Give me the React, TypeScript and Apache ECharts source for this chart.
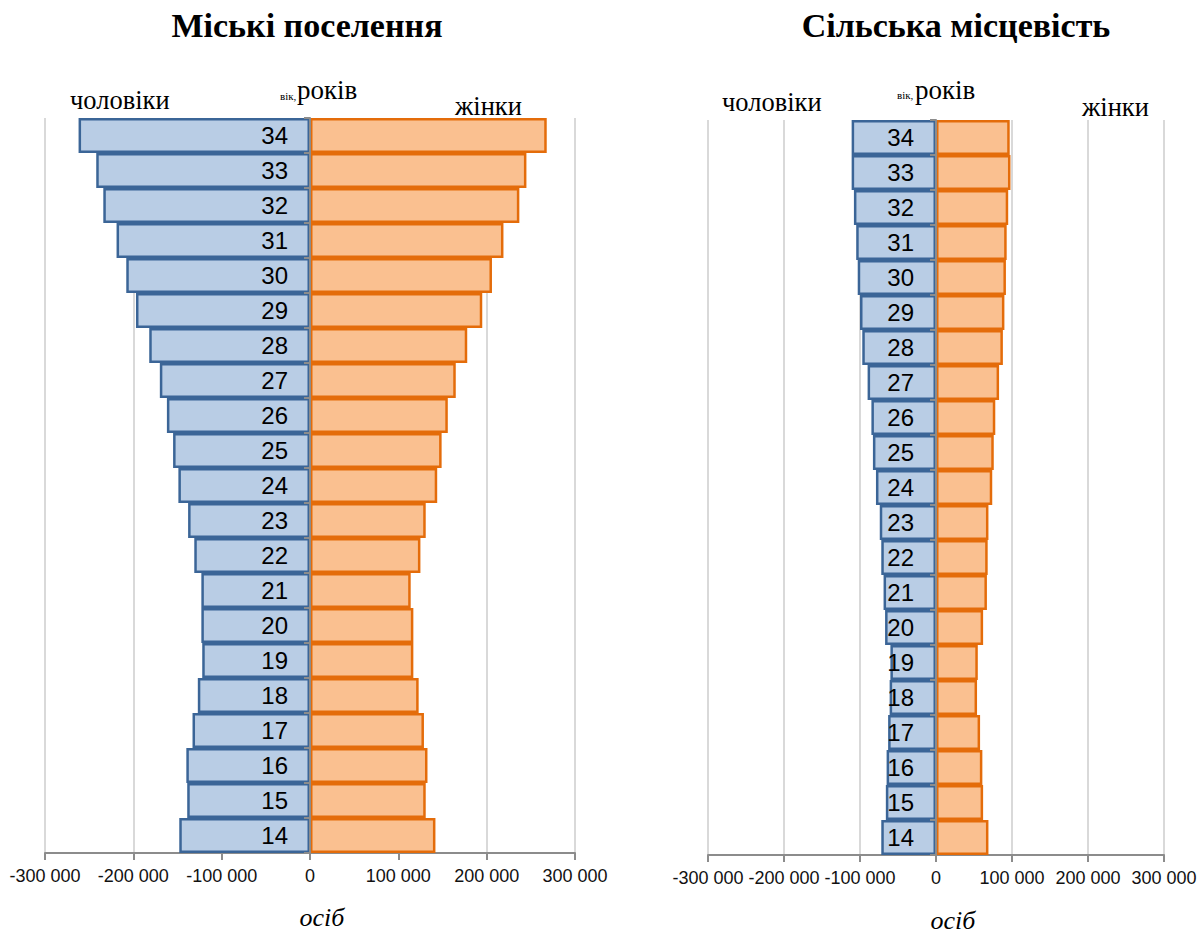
import React, { useEffect, useRef } from "react";
import * as echarts from "echarts";

const ages = ["14", "15", "16", "17", "18", "19", "20", "21", "22", "23", "24", "25", "26", "27", "28", "29", "30", "31", "32", "33", "34"];

const urbanMale = [148000, 139000, 140000, 133000, 127000, 122000, 123000, 123000, 131000, 138000, 149000, 155000, 162000, 170000, 182000, 197000, 208000, 219000, 234000, 242000, 262000];
const urbanFemale = [142000, 131000, 133000, 129000, 123000, 117000, 117000, 114000, 125000, 131000, 144000, 149000, 156000, 165000, 178000, 195000, 206000, 219000, 237000, 245000, 268000];

const ruralMale = [72000, 66000, 65000, 63000, 61000, 60000, 67000, 69000, 72000, 74000, 79000, 83000, 85000, 90000, 97000, 100000, 103000, 105000, 108000, 111000, 111000];
const ruralFemale = [69000, 62000, 61000, 58000, 54000, 55000, 62000, 67000, 68000, 69000, 74000, 76000, 78000, 83000, 88000, 90000, 92000, 93000, 95000, 98000, 97000];

const tickValues = [-300000, -200000, -100000, 0, 100000, 200000, 300000];
const tickLabels = ["-300 000", "-200 000", "-100 000", "0", "100 000", "200 000", "300 000"];

const titles = ["Міські поселення", "Сільська місцевість"];
const maleLabel = "чоловіки";
const femaleLabel = "жінки";
const ageSmall = "вік,";
const ageLabel = "років";
const unitLabel = "осіб";

const SANS = "'Liberation Sans', Arial, 'DejaVu Sans', sans-serif";
const SERIF = "'Liberation Serif', 'Times New Roman', 'DejaVu Serif', serif";

const MALE_FILL = "#B9CDE5";
const MALE_BORDER = "#3B6597";
const FEMALE_FILL = "#FAC090";
const FEMALE_BORDER = "#E46C0A";

function fmtTick(v: number) {
  const i = tickValues.indexOf(v);
  return i >= 0 ? tickLabels[i] : "";
}

export default function App() {
  const ref = useRef<HTMLDivElement>(null);
  useEffect(() => {
    if (!ref.current) return;
    const chart = echarts.init(ref.current, undefined, { renderer: "svg" });
    const g1 = { left: 45, right: 1198 - 575, top: 118, bottom: 936 - 853 };
    const g2 = { left: 708, right: 1198 - 1164, top: 120, bottom: 936 - 855 };
    const grids = [g1, g2].map((g) => ({ ...g, containLabel: false, outerBoundsMode: "none" }));
    const zeroOffsets = [-(575 - 45) / 2, -(1164 - 708) / 2];
    const xAxis = [0, 1].map((g) => ({
      type: "value",
      gridIndex: g,
      min: -300000,
      max: 300000,
      interval: 100000,
      axisLine: { show: true, onZero: false, lineStyle: { color: "#8C8C8C", width: 2 } },
      axisTick: { show: true, length: 7, lineStyle: { color: "#8C8C8C", width: 2 } },
      axisLabel: { formatter: fmtTick, fontFamily: SANS, fontSize: 18, color: "#111", margin: 14, showMinLabel: true, showMaxLabel: true, hideOverlap: false },
      splitLine: { show: true, lineStyle: { color: "#D9D9D9", width: 2 } },
    }));
    const yAxis = [0, 1].map((g) => ({
      type: "category",
      gridIndex: g,
      data: ages,
      z: 5,
      position: "left",
      offset: zeroOffsets[g],
      axisLine: { show: true, onZero: false, lineStyle: { color: "#8C8C8C", width: 2 } },
      axisTick: { show: true, length: 6, lineStyle: { color: "#8C8C8C", width: 2 } },
      axisLabel: { fontFamily: SANS, fontSize: 24, color: "#000", margin: 22, interval: 0, hideOverlap: false },
      splitLine: { show: false },
    }));
    const barCommon = { type: "bar", barGap: "-100%", barCategoryGap: "0%" };
    const series = [
      { ...barCommon, name: "m1", xAxisIndex: 0, yAxisIndex: 0, data: urbanMale.map((v) => -v), itemStyle: { color: MALE_FILL, borderColor: MALE_BORDER, borderWidth: 2.5 } },
      { ...barCommon, name: "f1", xAxisIndex: 0, yAxisIndex: 0, data: urbanFemale, itemStyle: { color: FEMALE_FILL, borderColor: FEMALE_BORDER, borderWidth: 2.5 } },
      { ...barCommon, name: "m2", xAxisIndex: 1, yAxisIndex: 1, data: ruralMale.map((v) => -v), itemStyle: { color: MALE_FILL, borderColor: MALE_BORDER, borderWidth: 2.5 } },
      { ...barCommon, name: "f2", xAxisIndex: 1, yAxisIndex: 1, data: ruralFemale, itemStyle: { color: FEMALE_FILL, borderColor: FEMALE_BORDER, borderWidth: 2.5 } },
    ];
    const txt = (x: number, y: number, text: string, size: number, extra: any = {}) => ({
      type: "text",
      x,
      y,
      z: 100,
      style: { text, fontFamily: SERIF, fontSize: size, fill: "#000", textAlign: "left", textVerticalAlign: "middle", ...extra },
    });
    const graphic = [
      txt(307, 25, titles[0], 34, { fontWeight: "bold", textAlign: "center" }),
      txt(956, 25, titles[1], 34, { fontWeight: "bold", textAlign: "center" }),
      txt(70, 100, maleLabel, 26.5),
      txt(280, 96, ageSmall, 11),
      txt(297, 90, ageLabel, 27),
      txt(455, 106, femaleLabel, 26.5),
      txt(322, 917, unitLabel, 26, { fontStyle: "italic", textAlign: "center" }),
      txt(722, 102, maleLabel, 26.5),
      txt(897, 95, ageSmall, 11),
      txt(915, 90, ageLabel, 27),
      txt(1082, 107, femaleLabel, 26.5),
      txt(953, 920, unitLabel, 26, { fontStyle: "italic", textAlign: "center" }),
    ];
    chart.setOption({
      animation: false,
      backgroundColor: "#fff",
      grid: grids,
      xAxis,
      yAxis,
      series,
      graphic,
    } as any);
    return () => chart.dispose();
  }, []);
  return <div ref={ref} style={{ position: "fixed", left: 0, top: 0, width: 1198, height: 936 }} />;
}
